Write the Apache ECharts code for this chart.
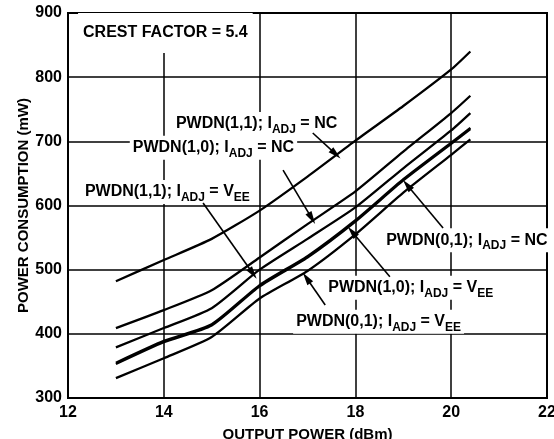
<!DOCTYPE html>
<html><head><meta charset="utf-8">
<script src="https://cdn.jsdelivr.net/npm/echarts@6/dist/echarts.min.js"></script>
<style>html,body{margin:0;padding:0;background:#fff}#c{width:554px;height:439px}</style>
</head><body><div id="c"></div>
<script>
// ---- data ----
const outputPower = [13, 14, 15, 16, 17, 18, 19, 20, 20.4];
const pwdn11NC  = [482, 515, 548, 592, 645, 701, 755, 812, 840];
const pwdn10NC  = [409, 437, 468, 519, 571, 622, 684, 744, 771];
const pwdn11VEE = [379, 409, 440, 500, 548, 597, 658, 717, 744];
const pwdn01NC  = [355, 389, 415, 476, 521, 577, 641, 698, 721];
const pwdn10VEE = [353, 387, 413, 474, 519, 575, 639, 696, 719];
const pwdn01VEE = [331, 362, 395, 455, 498, 555, 620, 679, 703];
const xTickMin = 12, xTickMax = 22, xTickStep = 2;
const yTickMin = 300, yTickMax = 900, yTickStep = 100;
const xTitle = 'OUTPUT POWER (dBm)';
const yTitle = 'POWER CONSUMPTION (mW)';

// annotations in data coordinates: text parts, label anchor (left, middle), arrow start, arrow tip
const notes = [
  {parts: [['c', 'CREST FACTOR = 5.4']], at: [12.21, 869], big: true},
  {parts: [['m', 'PWDN(1,1); I'], ['s', 'ADJ'], ['m', ' = NC']], at: [14.19, 727], from: [17.11, 713], to: [17.59, 680]},
  {parts: [['m', 'PWDN(1,0); I'], ['s', 'ADJ'], ['m', ' = NC']], at: [13.29, 690], from: [16.49, 655], to: [17.09, 580]},
  {parts: [['m', 'PWDN(1,1); I'], ['s', 'ADJ'], ['m', ' = V'], ['s', 'EE']], at: [12.29, 621], from: [14.82, 604], to: [15.86, 494]},
  {parts: [['m', 'PWDN(0,1); I'], ['s', 'ADJ'], ['m', ' = NC']], at: [18.58, 546], from: [19.83, 565], to: [19.08, 632]},
  {parts: [['m', 'PWDN(1,0); I'], ['s', 'ADJ'], ['m', ' = V'], ['s', 'EE']], at: [17.37, 472], from: [18.72, 489], to: [17.93, 559]},
  {parts: [['m', 'PWDN(0,1); I'], ['s', 'ADJ'], ['m', ' = V'], ['s', 'EE']], at: [16.70, 419], from: [17.37, 445], to: [16.98, 487]}
];

// ---- chart ----
const FONT = '"Liberation Sans", Arial, Helvetica, sans-serif';
const chart = echarts.init(document.getElementById('c'), null, {renderer: 'canvas'});

function pairs(ys) { return outputPower.map((x, i) => [x, ys[i]]); }
function curve(name, ys) {
  return {
    name, type: 'line', data: pairs(ys), showSymbol: false, smooth: 0.2,
    lineStyle: {color: '#000', width: 2.3}, silent: true, z: 3
  };
}

const rich = {
  c: {fontFamily: FONT, fontWeight: 'bold', fontSize: 16, color: '#000', lineHeight: 16},
  m: {fontFamily: FONT, fontWeight: 'bold', fontSize: 16, color: '#000', lineHeight: 14, verticalAlign: 'top'},
  s: {fontFamily: FONT, fontWeight: 'bold', fontSize: 12, color: '#000', lineHeight: 20, verticalAlign: 'bottom'}
};

const markPts = notes.map(n => ({
  coord: n.at,
  symbol: 'circle', symbolSize: 0,
  label: {
    show: true, position: 'inside', align: 'left', verticalAlign: 'middle',
    formatter: n.parts.map(p => '{' + p[0] + '|' + p[1] + '}').join(''),
    rich, backgroundColor: '#fff',
    padding: n.big ? [12, 5, 12, 5] : [4, 3, 0, 3]
  }
}));

const arrowLines = notes.filter(n => n.from).map(n => [
  {coord: n.from}, {coord: n.to}
]);

const annot = {
  name: 'annot', type: 'line', data: [], silent: true, z: 5,
  markPoint: {silent: true, data: markPts, animation: false, z: 5},
  markLine: {
    silent: true, animation: false, symbol: ['none', 'triangle'], symbolSize: [7, 13],
    lineStyle: {color: '#000', width: 1.6, type: 'solid'},
    label: {show: false}, data: arrowLines, z: 6
  }
};

const axisText = {fontFamily: FONT, fontWeight: 'bold', fontSize: 16, color: '#000'};

chart.setOption({
  animation: false,
  backgroundColor: '#fff',
  grid: {left: 68, right: 7, top: 13, bottom: 41, containLabel: false, outerBoundsMode: 'none',
         show: true, borderColor: '#000', borderWidth: 2, backgroundColor: 'transparent'},
  xAxis: {
    type: 'value', min: xTickMin, max: xTickMax, interval: xTickStep,
    name: xTitle, nameLocation: 'middle', nameGap: 29, nameMoveOverlap: false,
    nameTextStyle: Object.assign({}, axisText, {fontSize: 15}),
    axisLine: {show: true, lineStyle: {color: '#000', width: 2}},
    axisTick: {show: false},
    axisLabel: Object.assign({margin: 7}, axisText),
    splitLine: {show: true, lineStyle: {color: '#000', width: 1.5}}
  },
  yAxis: {
    type: 'value', min: yTickMin, max: yTickMax, interval: yTickStep,
    name: yTitle, nameLocation: 'middle', nameGap: 37, nameRotate: 90, nameMoveOverlap: false,
    nameTextStyle: Object.assign({}, axisText, {fontSize: 15}),
    axisLine: {show: true, lineStyle: {color: '#000', width: 2}},
    axisTick: {show: false},
    axisLabel: Object.assign({margin: 6}, axisText),
    splitLine: {show: true, lineStyle: {color: '#000', width: 1.5}}
  },
  series: [
    curve('PWDN(1,1); IADJ = NC', pwdn11NC),
    curve('PWDN(1,0); IADJ = NC', pwdn10NC),
    curve('PWDN(1,1); IADJ = VEE', pwdn11VEE),
    curve('PWDN(0,1); IADJ = NC', pwdn01NC),
    curve('PWDN(1,0); IADJ = VEE', pwdn10VEE),
    curve('PWDN(0,1); IADJ = VEE', pwdn01VEE),
    annot
  ]
});
</script></body></html>
